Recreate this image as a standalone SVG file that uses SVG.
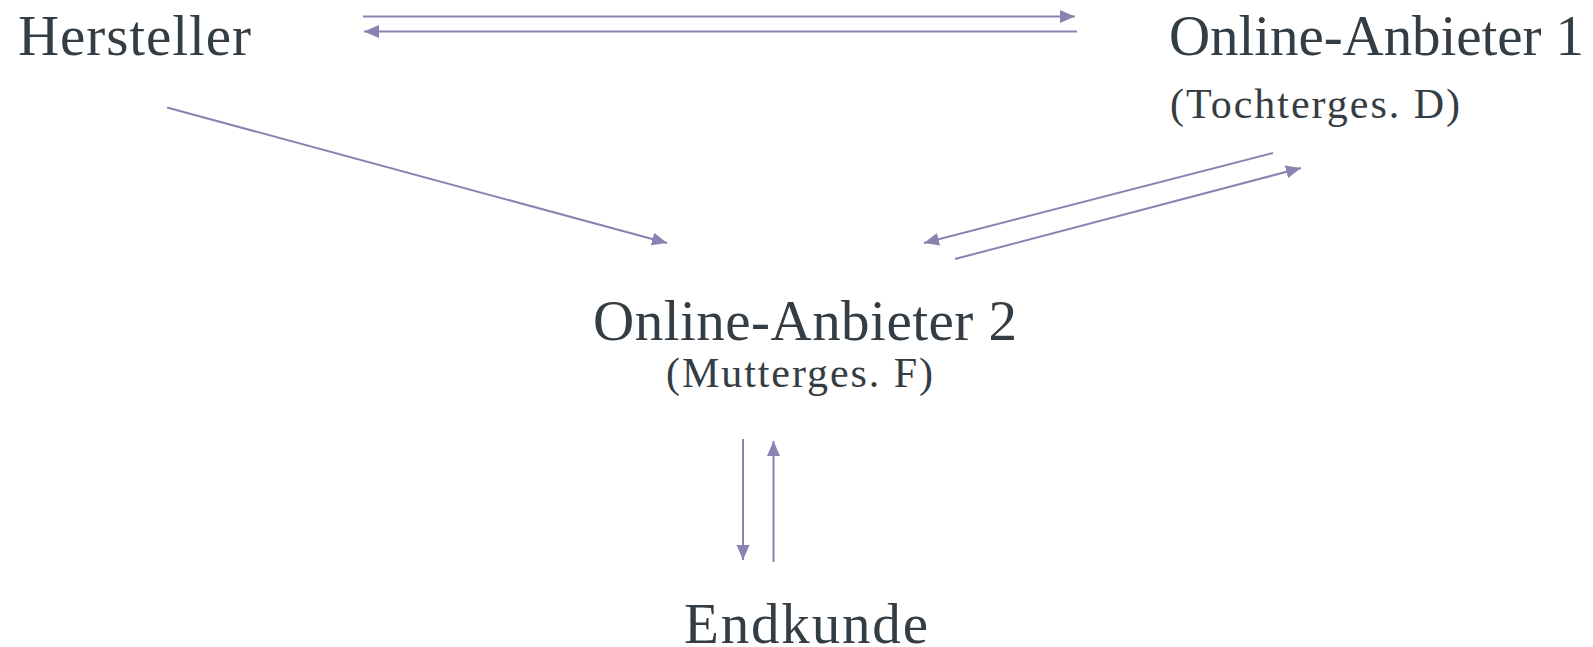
<svg xmlns="http://www.w3.org/2000/svg" width="1593" height="647" viewBox="0 0 1593 647">
<style>
.lbl{font-family:"Liberation Serif","Times New Roman",serif;fill:#343d43}
.main{font-size:57px}
.sub{font-size:42px}
.edge{stroke:#8a83b2;stroke-width:2;fill:none;marker-end:url(#ah)}
</style>
<defs>
<marker id="ah" markerUnits="userSpaceOnUse" markerWidth="16" markerHeight="14" refX="15" refY="6.5" orient="auto">
<path d="M0,0 L15,6.5 L0,13 z" fill="#8a83b2"/>
</marker>
</defs>
<rect width="1593" height="647" fill="#ffffff"/>
<g id="connectors">
<line class="edge" x1="363" y1="16.5" x2="1075" y2="16.5"/>
<line class="edge" x1="1077" y1="31.5" x2="364" y2="31.5"/>
<line class="edge" x1="167" y1="107.5" x2="667" y2="243"/>
<line class="edge" x1="1273" y1="153" x2="924" y2="243"/>
<line class="edge" x1="955" y1="259" x2="1301" y2="168"/>
<line class="edge" x1="743" y1="439" x2="743" y2="560"/>
<line class="edge" x1="773.5" y1="562" x2="773.5" y2="441"/>
</g>
<g id="hersteller">
<text class="lbl main" x="18" y="55" textLength="233" lengthAdjust="spacing">Hersteller</text>
</g>
<g id="online-anbieter-1">
<text class="lbl main" x="1169" y="55" textLength="415" lengthAdjust="spacing">Online-Anbieter 1</text>
<text class="lbl sub" x="1170" y="118" textLength="290" lengthAdjust="spacing">(Tochterges. D)</text>
</g>
<g id="online-anbieter-2">
<text class="lbl main" x="593" y="340" textLength="424" lengthAdjust="spacing">Online-Anbieter 2</text>
<text class="lbl sub" x="666" y="387" textLength="267" lengthAdjust="spacing">(Mutterges. F)</text>
</g>
<g id="endkunde">
<text class="lbl main" x="684" y="643" textLength="244" lengthAdjust="spacing">Endkunde</text>
</g>
</svg>
